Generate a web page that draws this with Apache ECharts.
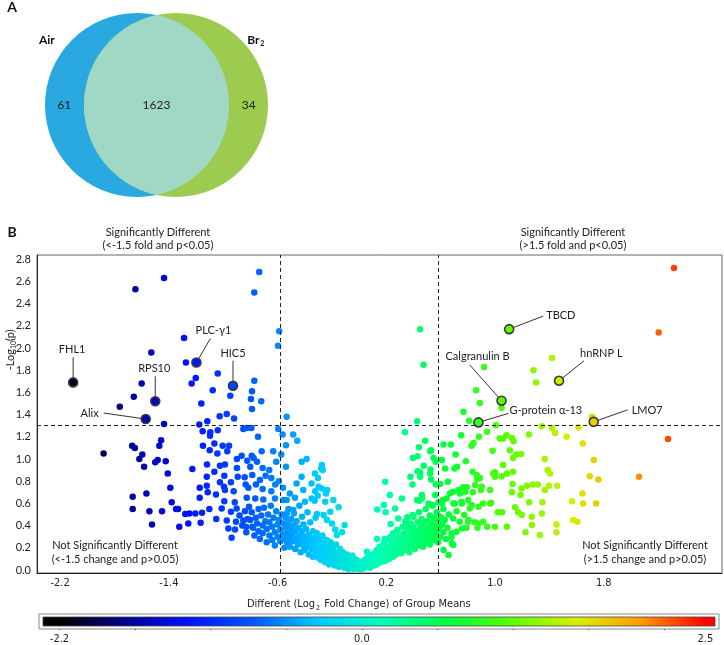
<!DOCTYPE html>
<html><head><meta charset="utf-8">
<script src="https://cdn.jsdelivr.net/npm/echarts@6/dist/echarts.min.js"></script>
<style>html,body{margin:0;padding:0;background:#fff}#c{width:724px;height:645px}</style>
</head><body><div id="c"></div>
<script>
// ---------------- DATA ----------------
const vennSets = ['Air', 'Br2'];
const vennCounts = [61, 1623, 34]; // Air only, both, Br2 only
const xTickValues = [-2.2, -1.4, -0.6, 0.2, 1.0, 1.8];
const yTickValues = [0, 0.2, 0.4, 0.6, 0.8, 1.0, 1.2, 1.4, 1.6, 1.8, 2.0, 2.2, 2.4, 2.6, 2.8];
const foldCut = 0.585;   // log2(1.5)
const pCut = 1.301;      // -log10(0.05)
const colorbarTicks = [-2.2, -1.65, -1.1, -0.55, 0, 0.55, 1.1, 1.65, 2.2];
const colorbarLabels = [-2.2, 0.0, 2.5];
const colorScale = ['#000000','#00008c','#0010ff','#0058ff','#00c8ff','#00ffb8','#00ff40','#58ff00','#d8f000','#ff9900','#ff0000'];

const labeledNames = ['FHL1','RPS10','Alix','PLC-γ1','HIC5','TBCD','Calgranulin B','G-protein α-13','hnRNP L','LMO7'];
const labeledX = [-2.104, -1.50, -1.57, -1.197, -0.928, 1.104, 1.048, 0.878, 1.471, 1.726];
const labeledY = [1.69, 1.52, 1.36, 1.87, 1.66, 2.17, 1.525, 1.33, 1.705, 1.335];

const leftPts = [
[-1.435,2.63],[-1.646,2.53],[-1.529,1.96],[-1.60,1.68],[-1.658,1.56],[-1.761,1.47],[-1.435,1.315],[-1.88,1.05],[-1.457,1.17],[-1.47,1.12],[-1.67,1.12],[-1.65,1.10],[-1.595,1.04],[-1.617,1.00],[-1.582,0.93],[-1.482,0.99],[-1.50,0.97],[-1.423,0.98],[-1.408,0.87],[-1.389,0.74],[-1.379,0.61],[-1.347,0.55],[-1.666,0.66],[-1.565,0.69],[-1.666,0.55],[-1.543,0.53],[-1.45,0.53],[-1.524,0.41],
[-0.735,2.685],[-0.771,2.50],[-0.588,2.15],[-0.597,2.02],[-1.288,2.09],[-1.274,1.87],[-1.04,1.77],[-1.202,1.73],[-1.232,1.68],[-0.771,1.705],[-1.077,1.62],[-0.948,1.57],[-0.788,1.61],[-0.796,1.54],[-0.72,1.52],[-1.161,1.50],[-0.788,1.45],[-0.974,1.405],[-1.026,1.385],[-0.92,1.365],[-1.117,1.34],[-0.533,1.38],[-1.176,1.31],[-1.151,1.25],[-1.095,1.24],[-1.097,1.21],[-1.04,1.26],[-0.852,1.27],[-0.827,1.28],[-0.793,1.28],[-0.595,1.27],[-0.563,1.22],[-0.485,1.22],[-0.455,1.165],[-0.744,1.20],[-1.065,1.14],[-1.004,1.12],[-0.957,1.12],[-1.149,1.12],[-1.099,1.08],[-1.043,1.05],[-0.97,1.07],[-0.717,1.07],[-0.632,1.07],[-0.573,1.04],[-0.79,1.03],[-0.776,1.01],[-0.864,1.03],[-0.899,1.00],[-1.119,0.95],[-1.024,0.94],[-0.987,0.95],[-0.823,0.985],[-0.801,0.93],[-0.751,0.975],[-0.71,0.92],[-0.661,0.90],[-0.61,0.975],[-0.423,0.975],[-0.386,1.00],[-1.227,0.91],[-1.065,0.885],[-0.899,0.92],[-0.893,0.84],[-0.842,0.835],[-0.786,0.855],[-0.688,0.85],[-0.646,0.83],[-0.73,0.81],[-0.759,0.77],[-0.992,0.85],[-1.121,0.84],[-1.024,0.79],[-0.943,0.79],[-1.121,0.76],[-0.835,0.77],[-0.617,0.77],[-0.59,0.80],[-0.56,0.74],[-0.994,0.75],[-0.987,0.72],[-0.923,0.71],[-0.815,0.74],[-0.71,0.73],[-0.646,0.71],[-1.173,0.74],[-1.114,0.70],[-1.053,0.68],[-1.173,0.65],[-0.992,0.62],[-0.915,0.61],[-0.827,0.65],[-0.764,0.645],[-0.705,0.635],[-0.619,0.645],[-0.533,0.63],[-0.472,0.65],[-1.332,0.55],[-1.279,0.505],[-1.249,0.51],[-1.205,0.51],[-1.156,0.515],[-1.102,0.55],[-1.051,0.46],[-0.974,0.445],[-0.906,0.435],[-0.852,0.445],[-0.832,0.39],[-1.323,0.39],[-1.257,0.42],[-1.166,0.425],[-0.962,0.375],[-0.913,0.365],[-0.938,0.29],[-0.786,0.39],[-0.943,0.525],[-0.901,0.555],[-1.011,0.555],
[-0.538,1.125],[-0.268,0.90],[-0.538,0.93],[-0.423,0.84],[-0.46,0.78],[-0.325,0.87],[-0.35,0.78],[-0.235,0.72],[-0.51,0.69],[-0.558,0.63],[-0.399,0.615],[-0.35,0.645],[-0.411,0.72],[-0.485,0.54],[-0.533,0.51],[-0.19,0.63],
[-0.274,0.945],[-0.279,0.915],[-0.303,0.83],[-0.298,0.75],[-0.274,0.735],[-0.323,0.71],[-0.244,0.69],[-0.305,0.67],[-0.327,0.625],[-0.249,0.615],[-0.151,0.565],[-0.212,0.525],[-0.31,0.505],[-0.261,0.495],[-0.237,0.45],[-0.2,0.42],[-0.176,0.365],[-0.107,0.405],[-0.126,0.34],[-0.163,0.315]
];

const coreBand = [
[-0.88,0.49],[-0.86,0.40],[-0.84,0.53],[-0.83,0.34],[-0.82,0.46],[-0.81,0.57],[-0.80,0.45],[-0.79,0.52],[-0.78,0.38],[-0.77,0.31],[-0.76,0.47],[-0.75,0.42],[-0.74,0.55],[-0.74,0.35],[-0.73,0.28],[-0.72,0.49],[-0.71,0.40],[-0.71,0.33],[-0.70,0.56],[-0.69,0.44],[-0.68,0.25],[-0.68,0.37],[-0.67,0.50],[-0.66,0.31],[-0.66,0.43],[-0.65,0.58],[-0.64,0.27],[-0.64,0.39],[-0.63,0.47],[-0.62,0.34],[-0.62,0.22],[-0.61,0.53],[-0.60,0.41],[-0.60,0.30],[-0.59,0.45],[-0.58,0.26],[-0.58,0.36],[-0.57,0.50],[-0.56,0.32],[-0.56,0.42],[-0.55,0.20],[-0.55,0.28],
[-0.54,0.38],[-0.54,0.47],[-0.53,0.25],[-0.53,0.33],[-0.52,0.55],[-0.52,0.42],[-0.51,0.29],[-0.51,0.21],[-0.50,0.37],[-0.50,0.46],[-0.49,0.32],[-0.49,0.26],[-0.48,0.51],[-0.48,0.40],[-0.47,0.19],[-0.47,0.35],[-0.46,0.28],[-0.46,0.44],[-0.45,0.23],[-0.45,0.38],[-0.44,0.31],[-0.44,0.58],[-0.43,0.16],[-0.43,0.27],[-0.42,0.35],[-0.42,0.48],[-0.41,0.22],[-0.41,0.41],[-0.40,0.30],[-0.40,0.18],[-0.39,0.26],[-0.39,0.37],[-0.38,0.52],[-0.38,0.21],[-0.37,0.32],[-0.37,0.14],[-0.36,0.28],[-0.36,0.43],[-0.35,0.19],[-0.35,0.24],[-0.34,0.35],[-0.34,0.12],[-0.33,0.29],[-0.33,0.21],[-0.32,0.47],[-0.32,0.16],[-0.31,0.25],[-0.31,0.33],[-0.30,0.11],[-0.30,0.19],
[-0.29,0.28],[-0.29,0.14],[-0.28,0.22],[-0.28,0.09],[-0.27,0.17],[-0.27,0.31],[-0.26,0.12],[-0.26,0.24],[-0.25,0.19],[-0.25,0.07],[-0.24,0.15],[-0.24,0.27],[-0.23,0.10],[-0.23,0.21],[-0.22,0.13],[-0.22,0.05],[-0.21,0.18],[-0.21,0.25],[-0.20,0.08],[-0.20,0.14],[-0.19,0.11],[-0.19,0.20],[-0.18,0.04],[-0.18,0.16],[-0.17,0.09],[-0.17,0.23],[-0.16,0.12],[-0.16,0.06],[-0.15,0.15],[-0.15,0.03],[-0.14,0.10],[-0.14,0.19],[-0.13,0.07],[-0.13,0.13],[-0.12,0.04],[-0.12,0.16],[-0.11,0.09],[-0.11,0.02],[-0.10,0.12],[-0.10,0.06],[-0.09,0.03],[-0.09,0.14],[-0.08,0.08],[-0.08,0.01],[-0.07,0.05],[-0.07,0.11],[-0.06,0.02],[-0.06,0.08],[-0.05,0.04],[-0.05,0.13],[-0.04,0.01],[-0.04,0.07],[-0.03,0.03],[-0.03,0.10],[-0.02,0.05],[-0.01,0.02],[-0.01,0.08],[0.00,0.01],[0.00,0.05],
[0.01,0.03],[0.02,0.07],[0.02,0.01],[0.03,0.04],[0.04,0.09],[0.04,0.02],[0.05,0.06],[0.06,0.03],[0.06,0.11],[0.07,0.05],[0.08,0.08],[0.08,0.02],[0.09,0.13],[0.09,0.05],[0.10,0.09],[0.11,0.04],[0.11,0.15],[0.12,0.07],[0.12,0.11],[0.13,0.18],[0.13,0.05],[0.14,0.09],[0.15,0.13],[0.15,0.21],[0.16,0.07],[0.16,0.16],[0.17,0.11],[0.18,0.24],[0.18,0.14],[0.19,0.08],[0.19,0.19],[0.20,0.12],[0.20,0.27],[0.21,0.16],[0.22,0.21],[0.22,0.10],[0.23,0.30],[0.23,0.14],[0.24,0.19],[0.24,0.25],[0.25,0.12],[0.25,0.33],[0.26,0.17],[0.26,0.22],[0.27,0.28],[0.27,0.14],[0.28,0.20],[0.28,0.36],[0.29,0.25],[0.29,0.17],[0.30,0.31],[0.30,0.22],
[0.31,0.15],[0.31,0.27],[0.32,0.39],[0.32,0.21],[0.33,0.33],[0.33,0.18],[0.34,0.25],[0.34,0.44],[0.35,0.30],[0.35,0.20],[0.36,0.37],[0.36,0.24],[0.37,0.16],[0.37,0.29],[0.38,0.42],[0.38,0.34],[0.39,0.22],[0.39,0.27],[0.40,0.48],[0.40,0.38],[0.41,0.31],[0.41,0.19],[0.42,0.25],[0.42,0.35],[0.43,0.43],[0.43,0.29],[0.44,0.22],[0.44,0.52],[0.45,0.33],[0.45,0.39],[0.46,0.27],[0.46,0.46],[0.47,0.36],[0.47,0.21],[0.48,0.30],[0.48,0.41],[0.49,0.55],[0.49,0.25],[0.50,0.34],[0.50,0.44],[0.51,0.28],[0.51,0.38],[0.52,0.49],[0.52,0.23],[0.53,0.32],[0.53,0.42],[0.54,0.36],[0.54,0.58],[0.55,0.27],[0.55,0.47],[0.56,0.40],[0.56,0.31],[0.57,0.35],[0.57,0.52],[0.58,0.44],[0.58,0.25],[0.59,0.38],[0.60,0.30],[0.60,0.48],[0.61,0.41],[0.62,0.34],[0.62,0.55],[0.63,0.45],[0.64,0.28],[0.65,0.38],[0.66,0.50]
];

const rightPts = [
[0.449,2.17],[0.474,1.85],[0.427,1.34],[0.337,1.24],[0.486,1.165],[0.44,1.105],[0.523,1.07],[0.396,1.01],[0.43,1.025],[0.563,0.975],[0.621,1.13],[0.675,1.13],[0.633,0.915],[0.43,0.89],[0.449,0.88],[0.523,0.87],[0.378,0.84],[0.53,0.815],[0.565,0.77],[0.596,0.775],[0.393,0.77],[0.192,0.795],[0.226,0.675],[0.315,0.645],[0.462,0.675],[0.442,0.625],[0.427,0.63],[0.511,0.60],[0.54,0.585],[0.584,0.61],[0.616,0.63],[0.643,0.645],[0.668,0.69],[0.182,0.585],[0.195,0.52],[0.133,0.545],[0.265,0.555],[0.354,0.475],[0.393,0.495],[0.356,0.42],[0.288,0.465],[0.232,0.415],[0.131,0.28],[0.057,0.165],[0.188,0.28],[0.222,0.275],
[1.42,1.91],[1.283,1.80],[1.302,1.69],[0.92,1.83],[0.861,1.62],[0.888,1.505],[1.048,1.46],[0.768,1.425],[0.81,1.345],[1.006,1.305],[0.751,1.215],[0.881,1.20],[0.942,1.245],[0.842,1.145],[0.827,1.12],[0.71,1.04],[1.035,1.185],[1.06,1.185],[1.084,1.215],[1.124,1.19],[1.136,1.16],[1.109,1.08],[0.982,1.075],[1.249,1.22],[1.344,1.295],[1.42,1.28],[1.442,1.235],[1.526,1.20],[1.614,1.285],[1.157,1.04],[1.192,1.045],[1.133,1.01],[1.06,0.945],[0.999,0.88],[0.986,0.87],[1.05,0.845],[1.089,0.87],[1.133,0.885],[1.366,1.00],[1.388,0.90],[1.405,0.87],[0.785,0.98],[0.721,0.93],[0.834,0.885],[0.866,0.855],[0.888,0.83],[0.868,0.82],[1.129,0.775],[1.234,0.76],[1.278,0.77],[1.315,0.77],[1.195,0.735],[1.124,0.70],[1.188,0.675],[1.396,0.76],[1.457,0.76],[1.366,0.72],[1.251,0.61],[1.349,0.61],[1.567,0.62],[1.648,0.60],[1.052,0.52],[1.17,0.52],[1.271,0.405],[1.224,0.34],[1.452,0.41],[1.452,0.34],[1.574,0.45],[1.606,0.435],[0.971,0.605],[0.913,0.60],[0.692,0.705],[0.741,0.69],[0.783,0.705],[0.765,0.745],[0.704,0.60],[0.753,0.615],[0.802,0.63],[0.815,0.555],[0.717,0.53],[0.773,0.495],[0.692,0.465],[0.741,0.435],[0.802,0.435],[0.851,0.43],[0.913,0.435],[0.942,0.39],[0.871,0.38],[0.79,0.38],[0.717,0.345],[0.68,0.30],[0.692,0.225],[0.903,0.75],[0.964,0.60],[0.837,0.70],
[2.317,2.72],[2.204,2.14],[1.714,1.38],[2.273,1.18],[2.06,0.84],[1.726,0.99],[1.697,0.845],[1.761,0.815],[1.646,1.14],[1.643,0.69],[1.744,0.60],
[0.53,1.08],[0.548,1.01],[0.609,0.99],[0.476,0.94],[0.525,0.905],[0.702,0.915],[0.449,0.84],[0.653,0.795],[0.732,0.72],[0.793,0.745],[0.854,0.765],[0.896,0.72],[0.964,0.72],[1.0,0.84],[0.462,0.645],[0.56,0.675],[0.609,0.60],[0.694,0.60],[0.756,0.60],[0.829,0.585],[0.878,0.57],[1.02,0.52],[1.148,0.565],[1.087,0.39],[1.197,0.495],[1.27,0.48],[1.33,0.315],[1.344,0.51],[0.878,0.42],[1.0,0.39],[0.805,0.45],[0.756,0.375],[0.682,0.33],[0.621,0.18],[0.682,0.24],[0.658,0.135]
];

// ---------------- LAYOUT / STYLE ----------------
const FONT = 'Lato, "Open Sans", sans-serif';
const NARROW = '"Liberation Sans Narrow", "DejaVu Sans Condensed", "Roboto Condensed", sans-serif';
const vennLayout = { offset: 0.212, colors: ['#29a9e0', '#9ccb50', '#a1d8c5'] };
const labelLayout = {
  'FHL1': {t:[-1,-33], l:[0,-25], a:'center'},
  'RPS10': {t:[-1,-33], l:[0,-25], a:'center'},
  'Alix': {t:[-47,-6], l:[-42,-6], a:'right'},
  'PLC-γ1': {t:[17,-32], l:[14,-24], a:'center'},
  'HIC5': {t:[0,-32], l:[0,-25], a:'center'},
  'TBCD': {t:[37,-14], l:[34,-13], a:'left'},
  'Calgranulin B': {t:[-24,-44], l:[-32,-36], a:'center'},
  'G-protein α-13': {t:[31,-12], l:[30,-9], a:'left'},
  'hnRNP L': {t:[21,-27], l:[25,-20], a:'left'},
  'LMO7': {t:[38,-11], l:[34,-12], a:'left'}
};
const cbRange = [-2.32, 2.57];
const vmRange = [-2.2, 2.5];

const scatterData = leftPts.concat(coreBand, rightPts);
const labeledData = labeledX.map((x, i) => [x, labeledY[i]]);

const gradStops = [{offset: 0, color: colorScale[0]}];
colorScale.forEach((c, i) => {
  const v = vmRange[0] + i * (vmRange[1] - vmRange[0]) / (colorScale.length - 1);
  gradStops.push({offset: (v - cbRange[0]) / (cbRange[1] - cbRange[0]), color: c});
});
gradStops.push({offset: 1, color: colorScale[colorScale.length - 1]});

const chart = echarts.init(document.getElementById('c'), null, {renderer: 'canvas'});

const txt = (x, y, text, opts) => ({
  type: 'text', x: x, y: y, silent: true,
  style: Object.assign({text: text, fill: '#222', font: '11px ' + FONT, textAlign: 'center', textVerticalAlign: 'middle'}, (opts && opts.style) || {})
});

const option = {
  animation: false,
  backgroundColor: '#fff',
  grid: [
    {left: 0, top: 0, width: 724, height: 210, show: false},
    {left: 37, top: 255, width: 685, height: 318, show: true, borderColor: '#666', borderWidth: 1},
    {left: 43, top: 617, width: 672, height: 12, show: false}
  ],
  xAxis: [
    {gridIndex: 0, type: 'value', min: -1.701, max: 6.168, show: false},
    {gridIndex: 1, type: 'value', min: -2.37, max: 2.67,
      axisLine: {show: true, onZero: false, lineStyle: {color: '#222'}},
      axisTick: {show: false}, splitLine: {show: false},
      axisLabel: {customValues: xTickValues, formatter: v => v.toFixed(1), fontFamily: NARROW, fontSize: 11, color: '#222', margin: 5}
    },
    {gridIndex: 2, type: 'value', min: cbRange[0], max: cbRange[1], offset: 3,
      axisLine: {show: false}, splitLine: {show: false},
      axisTick: {show: true, customValues: colorbarTicks, length: 4, lineStyle: {color: '#222', width: 1}},
      axisLabel: {customValues: colorbarLabels, formatter: v => v.toFixed(1), fontFamily: NARROW, fontSize: 11, color: '#222', margin: 5}
    }
  ],
  yAxis: [
    {gridIndex: 0, type: 'value', min: -1.141, max: 1.141, show: false},
    {gridIndex: 1, type: 'value', min: -0.027, max: 2.838,
      axisLine: {show: true, onZero: false, lineStyle: {color: '#222'}},
      axisTick: {show: false}, splitLine: {show: false},
      axisLabel: {customValues: yTickValues, formatter: v => v.toFixed(1), fontFamily: FONT, fontSize: 11, color: '#222', margin: 6}
    },
    {gridIndex: 2, type: 'value', min: 0, max: 1, show: false}
  ],
  visualMap: {type: 'continuous', show: false, dimension: 0, seriesIndex: [1, 2],
    min: vmRange[0], max: vmRange[1], inRange: {color: colorScale}},
  series: [
    { // Venn diagram
      type: 'custom', xAxisIndex: 0, yAxisIndex: 0, silent: true, data: [[0, 0]],
      renderItem: function (params, api) {
        const d = vennLayout.offset;
        const cA = api.coord([-d, 0]), cB = api.coord([d, 0]);
        const r = api.size([1, 0])[0];
        const a = Math.acos(d);
        const pts = [];
        for (let i = 0; i <= 80; i++) { const t = -a + 2 * a * i / 80; pts.push(api.coord([-d + Math.cos(t), Math.sin(t)])); }
        for (let i = 0; i <= 80; i++) { const t = Math.PI - a + 2 * a * i / 80; pts.push(api.coord([d + Math.cos(t), Math.sin(t)])); }
        const mid = api.coord([0, 0]);
        return {type: 'group', children: [
          {type: 'circle', shape: {cx: cA[0], cy: cA[1], r: r}, style: {fill: vennLayout.colors[0]}},
          {type: 'circle', shape: {cx: cB[0], cy: cB[1], r: r}, style: {fill: vennLayout.colors[1]}},
          {type: 'polygon', shape: {points: pts}, style: {fill: vennLayout.colors[2]}},
          {type: 'text', x: cA[0] - 0.98 * r, y: cA[1] - 0.71 * r, style: {text: vennSets[0], fill: '#111', font: 'bold 12px ' + FONT, align: 'center', verticalAlign: 'middle'}},
          {type: 'text', x: cB[0] + 0.84 * r, y: cB[1] - 0.71 * r, style: {text: 'Br', fill: '#111', font: 'bold 12px ' + FONT, align: 'center', verticalAlign: 'middle'}},
          {type: 'text', x: cB[0] + 0.84 * r + 9, y: cB[1] - 0.71 * r + 4, style: {text: vennSets[1].slice(2), fill: '#111', font: 'bold 7px ' + FONT, align: 'center', verticalAlign: 'middle'}},
          {type: 'text', x: cA[0] - 0.79 * r, y: cA[1], style: {text: String(vennCounts[0]), fill: '#222', font: '12px ' + FONT, align: 'center', verticalAlign: 'middle'}},
          {type: 'text', x: mid[0], y: mid[1], style: {text: String(vennCounts[1]), fill: '#222', font: '12px ' + FONT, align: 'center', verticalAlign: 'middle'}},
          {type: 'text', x: cB[0] + 0.79 * r, y: cB[1], style: {text: String(vennCounts[2]), fill: '#222', font: '12px ' + FONT, align: 'center', verticalAlign: 'middle'}}
        ]};
      }
    },
    { // all proteins
      type: 'scatter', xAxisIndex: 1, yAxisIndex: 1, data: scatterData, symbolSize: 6.5, silent: true,
      itemStyle: {opacity: 1},
      markLine: {silent: true, symbol: ['none', 'none'], label: {show: false},
        lineStyle: {color: '#222', width: 1, type: [4, 3]},
        data: [{xAxis: -foldCut}, {xAxis: foldCut}, {yAxis: pCut}]}
    },
    { // highlighted proteins
      type: 'scatter', xAxisIndex: 1, yAxisIndex: 1, data: labeledData, symbolSize: 9, z: 5, silent: true,
      itemStyle: {borderColor: '#3a3a3a', borderWidth: 1.6, opacity: 1}
    },
    { // labels + leader lines
      type: 'custom', xAxisIndex: 1, yAxisIndex: 1, data: labeledData, z: 4, silent: true, clip: false,
      renderItem: function (params, api) {
        const name = labeledNames[params.dataIndex];
        const p = api.coord([api.value(0), api.value(1)]);
        const L = labelLayout[name];
        return {type: 'group', children: [
          {type: 'line', shape: {x1: p[0] + L.l[0], y1: p[1] + L.l[1], x2: p[0], y2: p[1]}, style: {stroke: '#333', lineWidth: 1}},
          {type: 'text', x: p[0] + L.t[0], y: p[1] + L.t[1], style: {text: name, fill: '#222', font: '11px ' + FONT, align: L.a, verticalAlign: 'middle'}}
        ]};
      }
    },
    { // colour bar
      type: 'custom', xAxisIndex: 2, yAxisIndex: 2, data: [[cbRange[0], cbRange[1]]], silent: true, clip: false,
      renderItem: function (params, api) {
        const p0 = api.coord([api.value(0), 1]);
        const p1 = api.coord([api.value(1), 0]);
        return {type: 'group', children: [
          {type: 'rect', shape: {x: p0[0] - 4, y: p0[1] - 3, width: p1[0] - p0[0] + 8, height: p1[1] - p0[1] + 6}, style: {fill: '#fff', stroke: '#888', lineWidth: 1}},
          {type: 'rect', shape: {x: p0[0], y: p0[1], width: p1[0] - p0[0], height: p1[1] - p0[1]},
            style: {fill: new echarts.graphic.LinearGradient(0, 0, 1, 0, gradStops), stroke: '#444', lineWidth: 0.8}}
        ]};
      }
    }
  ],
  graphic: [
    txt(12, 7, 'A', {style: {font: 'bold 14px ' + FONT, fill: '#111'}}),
    txt(12, 232, 'B', {style: {font: 'bold 14px ' + FONT, fill: '#111'}}),
    txt(158, 232, 'Significantly Different'),
    txt(158, 245, '(<-1.5 fold and p<0.05)'),
    txt(573, 232, 'Significantly Different'),
    txt(573, 245, '(>1.5 fold and p<0.05)'),
    txt(115, 545, 'Not Significantly Different'),
    txt(115, 559, '(<-1.5 change and p>0.05)'),
    txt(645, 545, 'Not Significantly Different'),
    txt(645, 559, '(>1.5 change and p>0.05)'),
    // x axis title with subscript
    txt(315, 604, 'Different (Log', {style: {font: '11px ' + NARROW, textAlign: 'right'}}),
    txt(318, 608, '2', {style: {font: '7px ' + NARROW}}),
    txt(321, 604, ' Fold Change) of Group Means', {style: {font: '11px ' + NARROW, textAlign: 'left'}}),
    // y axis title with subscript
    {type: 'group', x: 10, y: 345, rotation: Math.PI / 2, silent: true, children: [
      {type: 'text', x: -4, y: 0, style: {text: '-Log', fill: '#222', font: '11px ' + FONT, textAlign: 'right', textVerticalAlign: 'middle'}},
      {type: 'text', x: -4, y: 4, style: {text: '10', fill: '#222', font: '7px ' + FONT, textAlign: 'left', textVerticalAlign: 'middle'}},
      {type: 'text', x: 4, y: 0, style: {text: '(p)', fill: '#222', font: '11px ' + FONT, textAlign: 'left', textVerticalAlign: 'middle'}}
    ]}
  ]
};
chart.setOption(option);
</script>
</body></html>
